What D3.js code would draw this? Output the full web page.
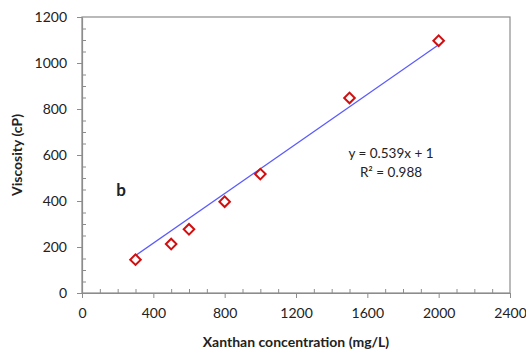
<!DOCTYPE html>
<html><head><meta charset="utf-8">
<script src="https://cdn.jsdelivr.net/npm/d3@7"></script>
<style>body{margin:0;background:#fff}svg{display:block}text{font-family:Lato,"Noto Sans",sans-serif;fill:#222}</style>
</head><body><svg id="c" width="526" height="354"></svg>
<script>
const concentration = [300, 500, 600, 800, 1000, 1500, 2000];
const viscosity = [145, 213, 277, 397, 517, 848, 1097];
const fitSlope = 0.539, fitIntercept = 1;
const fitRange = [300, 2000];
const xTicks = [0, 400, 800, 1200, 1600, 2000, 2400];
const yTicks = [0, 200, 400, 600, 800, 1000, 1200];

const svg = d3.select("#c");
const L = 82, R = 510, T = 17, B = 293;
const x = d3.scaleLinear().domain([0, 2400]).range([L, R]);
const y = d3.scaleLinear().domain([0, 1200]).range([B, T]);

svg.append("rect").attr("x", L).attr("y", T).attr("width", R - L).attr("height", B - T)
  .attr("fill", "none").attr("stroke", "#8c8c8c").attr("stroke-width", 1.2);

const xMinor = d3.range(0, 2401, 100).filter(v => v % 400 !== 0);
const yMinor = d3.range(0, 1201, 50).filter(v => v % 200 !== 0);
svg.append("g").attr("transform", `translate(0,${B})`)
  .call(d3.axisTop(x).tickValues(xMinor).tickSize(4).tickFormat(""))
  .call(g => { g.select(".domain").remove(); g.selectAll("line").attr("stroke", "#8c8c8c"); });
svg.append("g").attr("transform", `translate(${L},0)`)
  .call(d3.axisRight(y).tickValues(yMinor).tickSize(4).tickFormat(""))
  .call(g => { g.select(".domain").remove(); g.selectAll("line").attr("stroke", "#8c8c8c"); });

const fmt = d3.format("d");
const xAxis = svg.append("g").attr("transform", `translate(0,${B})`)
  .call(d3.axisBottom(x).tickValues(xTicks).tickFormat(fmt).tickSize(5).tickSizeOuter(0).tickPadding(10));
const yAxis = svg.append("g").attr("transform", `translate(${L},0)`)
  .call(d3.axisLeft(y).tickValues(yTicks).tickFormat(fmt).tickSize(5).tickSizeOuter(0).tickPadding(10));
[xAxis, yAxis].forEach(g => {
  g.select(".domain").attr("stroke", "#8c8c8c").attr("stroke-width", 1.2);
  g.selectAll("line").attr("stroke", "#8c8c8c");
  g.selectAll("text").style("font-size", "14px").style("fill", "#222").style("font-family", "Lato, sans-serif");
});

svg.append("line")
  .attr("x1", x(fitRange[0])).attr("y1", y(fitSlope * fitRange[0] + fitIntercept))
  .attr("x2", x(fitRange[1])).attr("y2", y(fitSlope * fitRange[1] + fitIntercept))
  .attr("stroke", "#5a5aff").attr("stroke-width", 1.3);

svg.append("g").selectAll("path").data(concentration.map((c, i) => [c, viscosity[i]])).join("path")
  .attr("transform", d => `translate(${x(d[0])},${y(d[1])}) rotate(45)`)
  .attr("d", d3.symbol().type(d3.symbolSquare).size(56)())
  .attr("fill", "#fff").attr("stroke", "#d01010").attr("stroke-width", 2);

svg.append("text").attr("x", 391).attr("y", 158).attr("text-anchor", "middle")
  .style("font-size", "13.5px").text("y = 0.539x + 1");
svg.append("text").attr("x", 391).attr("y", 177).attr("text-anchor", "middle")
  .style("font-size", "13.5px").text("R² = 0.988");
svg.append("text").attr("x", 121).attr("y", 196).attr("text-anchor", "middle")
  .style("font-size", "17px").style("font-weight", "bold").text("b");

svg.append("text").attr("x", (L + R) / 2).attr("y", 347).attr("text-anchor", "middle")
  .style("font-size", "14px").style("font-weight", "bold").text("Xanthan concentration (mg/L)");
svg.append("text").attr("transform", `translate(22,${(T + B) / 2}) rotate(-90)`).attr("text-anchor", "middle")
  .style("font-size", "14px").style("font-weight", "bold").text("Viscosity (cP)");
</script></body></html>
